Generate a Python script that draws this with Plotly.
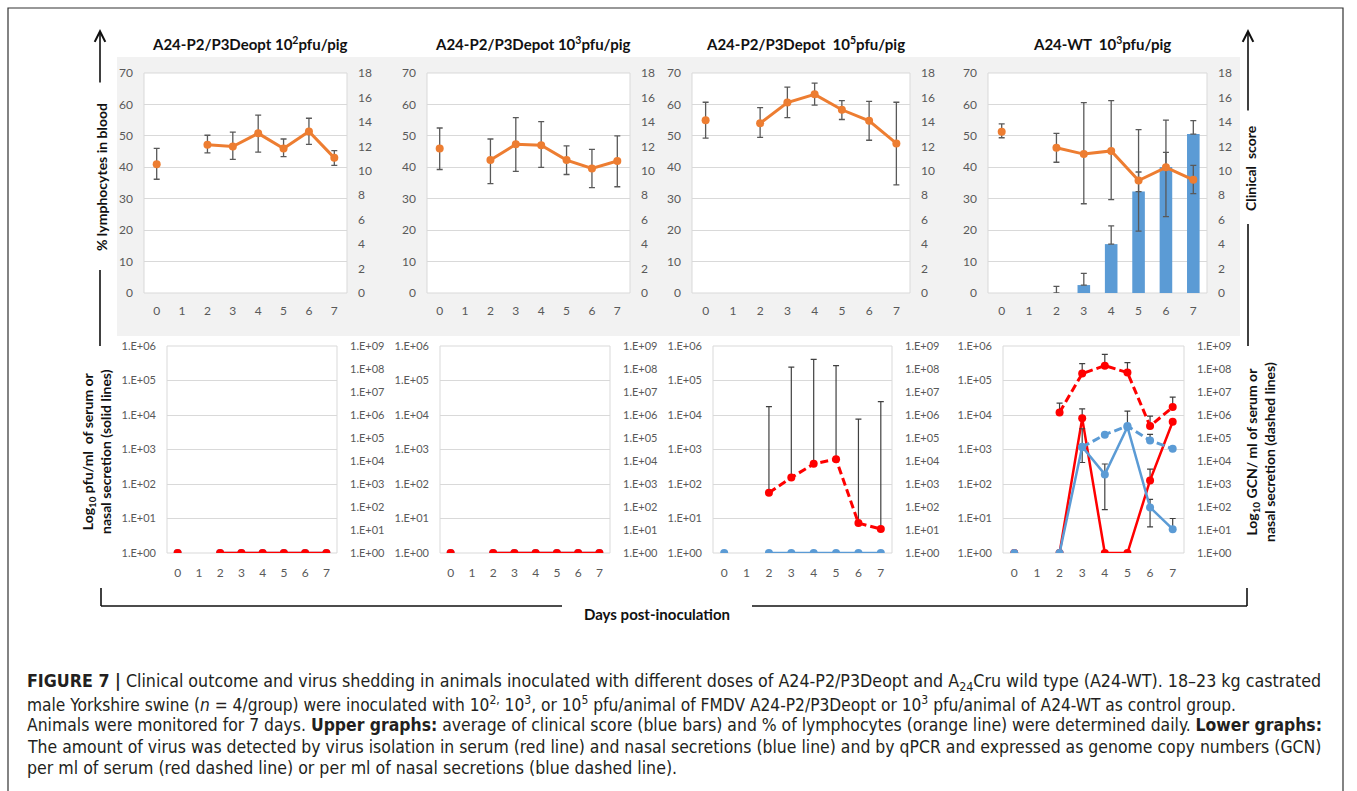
import plotly.graph_objects as go

W, H = 1357, 791

# ---------------- data ----------------
days = [0, 1, 2, 3, 4, 5, 6, 7]
day_labels = ["0", "1", "2", "3", "4", "5", "6", "7"]

panel_titles = [
    "A24-P2/P3Deopt 10<sup>2</sup>pfu/pig",
    "A24-P2/P3Depot 10<sup>3</sup>pfu/pig",
    "A24-P2/P3Depot  10<sup>5</sup>pfu/pig",
    "A24-WT  10<sup>3</sup>pfu/pig",
]

# % lymphocytes (left axis, 0-70) with error bar ends
lymph_d2 = [41.0, None, 47.2, 46.6, 50.8, 46.0, 51.4, 43.0]
lymph_d2_hi = [46.0, None, 50.2, 51.2, 56.6, 49.0, 55.6, 45.3]
lymph_d2_lo = [36.2, None, 44.6, 42.5, 44.8, 43.4, 47.3, 40.6]

lymph_d3 = [46.0, None, 42.3, 47.3, 47.0, 42.3, 39.6, 42.0]
lymph_d3_hi = [52.5, None, 49.0, 55.8, 54.5, 46.8, 45.7, 50.0]
lymph_d3_lo = [39.3, None, 34.8, 38.7, 40.0, 37.7, 33.5, 33.8]

lymph_d5 = [55.0, None, 54.0, 60.6, 63.2, 58.3, 54.8, 47.6]
lymph_d5_hi = [60.7, None, 59.0, 65.5, 66.8, 61.2, 61.0, 60.7]
lymph_d5_lo = [49.3, None, 49.5, 55.8, 59.8, 55.2, 48.6, 34.4]

lymph_wt = [51.3, None, 46.2, 44.2, 45.2, 35.8, 40.0, 36.0]
lymph_wt_hi = [53.8, None, 50.8, 60.6, 61.2, 52.0, 55.0, 40.6]
lymph_wt_lo = [49.4, None, 41.6, 28.4, 29.7, 19.7, 24.3, 31.6]

# clinical score (right axis, 0-18), WT group only
clinical_wt = [None, None, 0.0, 0.65, 4.0, 8.3, 10.3, 13.0]
clinical_wt_err = [None, None, 0.55, 0.95, 1.5, 1.6, 1.2, 1.1]

# virus isolation, pfu/ml (left log axis) and GCN/ml (right log axis)
serum_vi_d2 = [1, None, 1, 1, 1, 1, 1, 1]
nasal_vi_d2 = [1, None, 1, 1, 1, 1, 1, 1]
serum_vi_d3 = [1, None, 1, 1, 1, 1, 1, 1]
nasal_vi_d3 = [1, None, 1, 1, 1, 1, 1, 1]
nasal_vi_d5 = [1, None, 1, 1, 1, 1, 1, 1]
serum_gcn_d5 = [None, None, 4.2e2, 1.9e3, 7.5e3, 1.2e4, 20, 11]
serum_gcn_d5_hi = [None, None, 2.3e6, 1.2e8, 2.6e8, 1.4e8, 6.6e5, 3.8e6]

serum_vi_wt = [1, None, 1, 8.0e3, 1, 1, 127, 6.4e3]
serum_vi_wt_hi = [None, None, None, 1.5e4, None, None, 270, None]
nasal_vi_wt = [1, None, 1, 1.2e3, 190, 4.5e3, 21, 4.9]
nasal_vi_wt_hi = [None, None, None, 4.0e3, 380, 1.3e4, 36, 10]
nasal_vi_wt_lo = [None, None, None, 420, 18, None, 5.7, None]
serum_gcn_wt = [None, None, 1.3e6, 6.3e7, 1.4e8, 7.0e7, 3.3e5, 2.2e6]
serum_gcn_wt_hi = [None, None, 3.3e6, 1.7e8, 4.3e8, 1.9e8, 9.0e5, 6.0e6]
nasal_gcn_wt = [None, None, None, 4.0e4, 1.4e5, 3.3e5, 7.8e4, 3.4e4]
nasal_gcn_wt_hi = [None, None, None, None, None, None, 1.45e5, None]

left_log_ticks = [1, 10, 100, 1e3, 1e4, 1e5, 1e6]
left_log_labels = ["1.E+00", "1.E+01", "1.E+02", "1.E+03", "1.E+04", "1.E+05", "1.E+06"]
right_log_ticks = [10 ** k for k in range(10)]
right_log_labels = ["1.E+0%d" % k for k in range(10)]

caption_lines = [
    "<b>FIGURE 7 |</b> Clinical outcome and virus shedding in animals inoculated with different doses of A24-P2/P3Deopt and A<sub>24</sub>Cru wild type (A24-WT). 18–23 kg castrated",
    "male Yorkshire swine (<i>n</i> = 4/group) were inoculated with 10<sup>2,</sup> 10<sup>3</sup>, or 10<sup>5</sup> pfu/animal of FMDV A24-P2/P3Deopt or 10<sup>3</sup> pfu/animal of A24-WT as control group.",
    "Animals were monitored for 7 days. <b>Upper graphs:</b> average of clinical score (blue bars) and % of lymphocytes (orange line) were determined daily. <b>Lower graphs:</b>",
    "The amount of virus was detected by virus isolation in serum (red line) and nasal secretions (blue line) and by qPCR and expressed as genome copy numbers (GCN)",
    "per ml of serum (red dashed line) or per ml of nasal secretions (blue dashed line).",
]

# ---------------- styling ----------------
ORANGE = "#ED7D31"
BLUE = "#5B9BD5"
RED = "#FF0000"
GRID = "#D9D9D9"
TICK = "#595959"
ERR = "#595959"
FONT = "Lato, Carlito, sans-serif"
CAPFONT = "Liberation Sans Narrow, Arial Narrow, DejaVu Sans Condensed, sans-serif"


def X(px):
    return px / W


def Y(py):
    return 1 - py / H


top_x = [(144, 347), (427, 630), (692, 910), (988, 1207)]
top_y = (73, 293)
bot_x = [(167, 337), (440, 610), (713, 892), (1003, 1184)]
bot_y = (346, 553)

fig = go.Figure()
layout = dict(
    width=W, height=H, autosize=False,
    margin=dict(l=0, r=0, t=0, b=0, pad=0, autoexpand=False),
    paper_bgcolor="white", plot_bgcolor="rgba(0,0,0,0)",
    showlegend=False,
    font=dict(family=FONT, color=TICK, size=12),
)
shapes = []
annotations = []

# gray background of top row
shapes.append(dict(type="rect", xref="paper", yref="paper", x0=X(117), x1=X(1240), y0=Y(57), y1=Y(336),
                   fillcolor="#F2F2F2", line=dict(width=0), layer="below"))


def ax_name(kind, n):
    return kind + "axis" + ("" if n == 1 else str(n))


def ref(kind, n):
    return kind + ("" if n == 1 else str(n))


def err_arrays(vals, hi, lo):
    plus, minus = [], []
    for i, v in enumerate(vals):
        h = hi[i] if hi is not None else None
        l = lo[i] if lo is not None else None
        plus.append(h - v if (v is not None and h is not None) else 0)
        minus.append(v - l if (v is not None and l is not None) else 0)
    return plus, minus


xaxis_common = dict(tickmode="array", tickvals=days, ticktext=day_labels, range=[-0.5, 7.5],
                    showgrid=False, zeroline=False, ticks="", showline=False,
                    tickfont=dict(size=12, color=TICK, family=FONT))

# ---------------- top row ----------------
lymph_sets = [
    (lymph_d2, lymph_d2_hi, lymph_d2_lo),
    (lymph_d3, lymph_d3_hi, lymph_d3_lo),
    (lymph_d5, lymph_d5_hi, lymph_d5_lo),
    (lymph_wt, lymph_wt_hi, lymph_wt_lo),
]
for i in range(4):
    xn = i + 1
    yb = 2 * i + 1   # clinical score axis (right)
    yo = 2 * i + 2   # lymphocyte axis (left)
    x0, x1 = top_x[i]
    dom_x = [X(x0), X(x1)]
    dom_y = [Y(top_y[1]), Y(top_y[0])]
    shapes.append(dict(type="rect", xref="paper", yref="paper", x0=X(x0), x1=X(x1), y0=Y(top_y[1]), y1=Y(top_y[0]),
                       fillcolor="white", line=dict(color=GRID, width=1), layer="below"))
    layout[ax_name("x", xn)] = dict(xaxis_common, domain=dom_x, anchor=ref("y", yb), ticklabelstandoff=9)
    layout[ax_name("y", yb)] = dict(domain=dom_y, anchor=ref("x", xn), side="right", range=[0, 18],
                                    tickmode="array", tickvals=list(range(0, 19, 2)),
                                    showgrid=False, zeroline=False, ticks="", ticklabelstandoff=10,
                                    tickfont=dict(size=12, color=TICK, family=FONT))
    layout[ax_name("y", yo)] = dict(domain=dom_y, anchor=ref("x", xn), overlaying=ref("y", yb), side="left",
                                    range=[0, 70], tickmode="array", tickvals=list(range(0, 71, 10)),
                                    showgrid=True, gridcolor=GRID, gridwidth=1, zeroline=False, ticks="",
                                    ticklabelstandoff=10, tickfont=dict(size=12, color=TICK, family=FONT))
    if i == 3:
        plus = [e if e is not None else 0 for e in clinical_wt_err]
        fig.add_trace(go.Bar(x=days, y=clinical_wt, width=0.46, marker=dict(color=BLUE, line=dict(width=0)),
                             error_y=dict(type="data", array=plus, arrayminus=[0] * 8, symmetric=False,
                                          color=ERR, thickness=1.3, width=3),
                             xaxis=ref("x", xn), yaxis=ref("y", yb), hoverinfo="skip"))
    else:
        # no clinical signs in this group: empty series keeps the clinical-score axis
        fig.add_trace(go.Scatter(x=[None], y=[None], mode="markers", xaxis=ref("x", xn),
                                 yaxis=ref("y", yb), hoverinfo="skip"))
    vals, hi, lo = lymph_sets[i]
    plus, minus = err_arrays(vals, hi, lo)
    fig.add_trace(go.Scatter(x=days, y=vals, mode="lines+markers",
                             line=dict(color=ORANGE, width=3), marker=dict(color=ORANGE, size=8),
                             error_y=dict(type="data", array=plus, arrayminus=minus, symmetric=False,
                                          color=ERR, thickness=1.3, width=3),
                             connectgaps=False, xaxis=ref("x", xn), yaxis=ref("y", yo)))
    annotations.append(dict(xref="paper", yref="paper", x=X((x0 + x1) / 2 + 4), y=Y(44),
                            text="<b>" + panel_titles[i] + "</b>",
                            showarrow=False, font=dict(size=15, color="#111", family=FONT),
                            xanchor="center", yanchor="middle"))

# ---------------- bottom row ----------------
for i in range(4):
    xn = 5 + i
    yb = 9 + 2 * i    # pfu axis (left)
    yo = 10 + 2 * i   # GCN axis (right)
    x0, x1 = bot_x[i]
    dom_x = [X(x0), X(x1)]
    dom_y = [Y(bot_y[1]), Y(bot_y[0])]
    shapes.append(dict(type="rect", xref="paper", yref="paper", x0=X(x0), x1=X(x1), y0=Y(bot_y[1]), y1=Y(bot_y[0]),
                       fillcolor="white", line=dict(color=GRID, width=1), layer="below"))
    layout[ax_name("x", xn)] = dict(xaxis_common, domain=dom_x, anchor=ref("y", yb), ticklabelstandoff=11)
    layout[ax_name("y", yb)] = dict(domain=dom_y, anchor=ref("x", xn), side="left", type="log", range=[0, 6],
                                    tickmode="array", tickvals=left_log_ticks, ticktext=left_log_labels,
                                    showgrid=True, gridcolor=GRID, gridwidth=1, zeroline=False, ticks="",
                                    ticklabelstandoff=10, tickfont=dict(size=11, color=TICK, family=FONT))
    layout[ax_name("y", yo)] = dict(domain=dom_y, anchor=ref("x", xn), overlaying=ref("y", yb), side="right",
                                    type="log", range=[0, 9], tickmode="array", tickvals=right_log_ticks,
                                    ticktext=right_log_labels, showgrid=False, zeroline=False, ticks="",
                                    ticklabelstandoff=12, tickfont=dict(size=11, color=TICK, family=FONT))
    xr, yl, yr = ref("x", xn), ref("y", yb), ref("y", yo)
    line_kw = dict(mode="lines+markers", connectgaps=False, xaxis=xr)
    if i in (0, 1):
        nasal = nasal_vi_d2 if i == 0 else nasal_vi_d3
        serum = serum_vi_d2 if i == 0 else serum_vi_d3
        fig.add_trace(go.Scatter(x=days, y=nasal, line=dict(color=BLUE, width=2.5),
                                 marker=dict(color=BLUE, size=8), yaxis=yl, **line_kw))
        fig.add_trace(go.Scatter(x=days, y=serum, line=dict(color=RED, width=2.5),
                                 marker=dict(color=RED, size=8), yaxis=yl, **line_kw))
        fig.add_trace(go.Scatter(x=[None], y=[None], mode="markers", xaxis=xr, yaxis=yr, hoverinfo="skip"))
    elif i == 2:
        fig.add_trace(go.Scatter(x=days, y=nasal_vi_d5, line=dict(color=BLUE, width=2.5),
                                 marker=dict(color=BLUE, size=8), yaxis=yl, **line_kw))
        plus, minus = err_arrays(serum_gcn_d5, serum_gcn_d5_hi, None)
        fig.add_trace(go.Scatter(x=days, y=serum_gcn_d5, line=dict(color=RED, width=3, dash="8px,4px"),
                                 marker=dict(color=RED, size=8), yaxis=yr,
                                 error_y=dict(type="data", array=plus, arrayminus=minus, symmetric=False,
                                              color="#404040", thickness=1.2, width=3), **line_kw))
    else:
        plus, minus = err_arrays(serum_vi_wt, serum_vi_wt_hi, None)
        fig.add_trace(go.Scatter(x=days, y=serum_vi_wt, line=dict(color=RED, width=2.5),
                                 marker=dict(color=RED, size=8), yaxis=yl,
                                 error_y=dict(type="data", array=plus, arrayminus=minus, symmetric=False,
                                              color="#404040", thickness=1.2, width=3), **line_kw))
        plus, minus = err_arrays(nasal_vi_wt, nasal_vi_wt_hi, nasal_vi_wt_lo)
        fig.add_trace(go.Scatter(x=days, y=nasal_vi_wt, line=dict(color=BLUE, width=2.5),
                                 marker=dict(color=BLUE, size=8), yaxis=yl,
                                 error_y=dict(type="data", array=plus, arrayminus=minus, symmetric=False,
                                              color="#404040", thickness=1.2, width=3), **line_kw))
        plus, minus = err_arrays(serum_gcn_wt, serum_gcn_wt_hi, None)
        fig.add_trace(go.Scatter(x=days, y=serum_gcn_wt, line=dict(color=RED, width=3, dash="8px,4px"),
                                 marker=dict(color=RED, size=8), yaxis=yr,
                                 error_y=dict(type="data", array=plus, arrayminus=minus, symmetric=False,
                                              color="#404040", thickness=1.2, width=3), **line_kw))
        plus, minus = err_arrays(nasal_gcn_wt, nasal_gcn_wt_hi, None)
        fig.add_trace(go.Scatter(x=days, y=nasal_gcn_wt, line=dict(color=BLUE, width=3, dash="8px,4px"),
                                 marker=dict(color=BLUE, size=8), yaxis=yr,
                                 error_y=dict(type="data", array=plus, arrayminus=minus, symmetric=False,
                                              color="#404040", thickness=1.2, width=3), **line_kw))

# ---------------- side labels, arrows, brackets ----------------
LBL = dict(size=14, color="#111", family=FONT)
annotations.append(dict(xref="paper", yref="paper", x=X(101), y=Y(177), text="<b>% lymphocytes in blood</b>",
                        textangle=-90, showarrow=False, font=LBL, xanchor="center", yanchor="middle"))
annotations.append(dict(xref="paper", yref="paper", x=X(1250), y=Y(168), text="<b>Clinical  score</b>",
                        textangle=-90, showarrow=False, font=LBL, xanchor="center", yanchor="middle"))
annotations.append(dict(xref="paper", yref="paper", x=X(96), y=Y(452),
                        text="<b>Log<sub>10</sub> pfu/ml  of serum or<br>nasal secretion (solid lines)</b>",
                        textangle=-90, showarrow=False, font=LBL, xanchor="center", yanchor="middle"))
annotations.append(dict(xref="paper", yref="paper", x=X(1260), y=Y(452),
                        text="<b>Log<sub>10</sub> GCN/ ml of serum or<br>nasal secretion (dashed lines)</b>",
                        textangle=-90, showarrow=False, font=LBL, xanchor="center", yanchor="middle"))
annotations.append(dict(xref="paper", yref="paper", x=X(657), y=Y(614), text="<b>Days post-inoculation</b>",
                        showarrow=False, font=dict(size=15, color="#111", family=FONT),
                        xanchor="center", yanchor="middle"))

# arrows
for ax_px, tail in ((100, 84), (1248, 112)):
    annotations.append(dict(xref="paper", yref="paper", x=X(ax_px), y=Y(29), ax=0, ay=tail - 29,
                            axref="pixel", ayref="pixel", text="", showarrow=True,
                            arrowhead=5, arrowsize=1.3, arrowwidth=1.6, arrowcolor="#111"))


def seg(px0, py0, px1, py1, w=1.6, c="#111"):
    shapes.append(dict(type="line", xref="paper", yref="paper", x0=X(px0), y0=Y(py0), x1=X(px1), y1=Y(py1),
                       line=dict(color=c, width=w)))


seg(100, 270, 100, 346)
seg(1248, 224, 1248, 346)
seg(101, 588, 101, 606)
seg(101, 606, 562, 606)
seg(752, 606, 1247, 606)
seg(1247, 588, 1247, 606)

# outer frame
shapes.append(dict(type="rect", xref="paper", yref="paper", x0=X(8), x1=X(1343), y0=Y(800), y1=Y(8),
                   line=dict(color="#333", width=1.2), fillcolor="rgba(0,0,0,0)"))

# caption (per-line size roughly emulates the justified text block of the original)
cap_y = [682, 703.5, 725, 746.5, 768]
cap_size = [17.7, 17.2, 17.4, 17.45, 17.6]
for k, txt in enumerate(caption_lines):
    annotations.append(dict(xref="paper", yref="paper", x=X(25), y=Y(cap_y[k]), text=txt, showarrow=False,
                            xanchor="left", yanchor="middle", align="left",
                            font=dict(size=cap_size[k], color="#231F20", family=CAPFONT)))

layout["shapes"] = shapes
layout["annotations"] = annotations
fig.update_layout(**layout)
fig.write_html("out.html")
